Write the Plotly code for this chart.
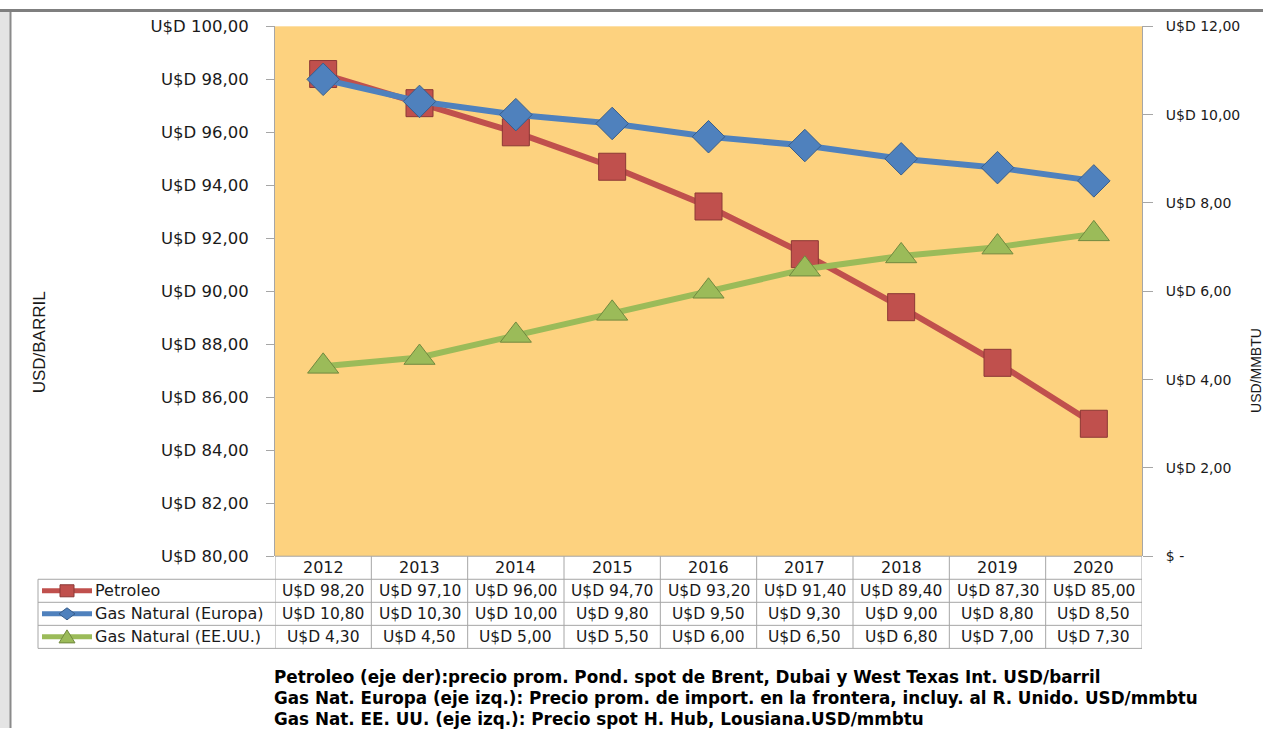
import plotly.graph_objects as go

years = ['2012', '2013', '2014', '2015', '2016', '2017', '2018', '2019', '2020']
petroleo = [98.20, 97.10, 96.00, 94.70, 93.20, 91.40, 89.40, 87.30, 85.00]
gas_europa = [10.80, 10.30, 10.00, 9.80, 9.50, 9.30, 9.00, 8.80, 8.50]
gas_eeuu = [4.30, 4.50, 5.00, 5.50, 6.00, 6.50, 6.80, 7.00, 7.30]

series_names = ['Petroleo', 'Gas Natural (Europa)', 'Gas Natural (EE.UU.)']
left_ticks = [80, 82, 84, 86, 88, 90, 92, 94, 96, 98, 100]
right_ticks = [0, 2, 4, 6, 8, 10, 12]
notes = [
    'Petroleo (eje der):precio prom. Pond. spot de Brent, Dubai y West Texas Int. USD/barril',
    'Gas Nat. Europa (eje izq.): Precio prom. de import. en la frontera, incluy. al R. Unido. USD/mmbtu',
    'Gas Nat. EE. UU. (eje izq.): Precio spot H. Hub, Lousiana.USD/mmbtu',
]

W, H = 1263, 738
RED, RED_D = '#C0504D', '#8C3836'
BLUE, BLUE_D = '#4F81BD', '#385D8A'
GREEN, GREEN_D = '#9BBB59', '#71893F'
GRID = '#A6A6A6'
FONT = 'DejaVu Sans'
TXT = '#1A1A1A'

# the page shows up slightly shifted/squeezed vertically, compensate for it
Y_OFF, Y_SC = 8.7, 0.9726


def px(x):
    return x / W


def py(y):
    return 1 - ((y - Y_OFF) / Y_SC) / H


def usd(v):
    return 'U$D ' + ('%.2f' % v).replace('.', ',')


xs = list(range(len(years)))

fig = go.Figure()

fig.add_trace(go.Scatter(x=xs, y=petroleo, name=series_names[0], mode='lines+markers',
                         line=dict(color=RED, width=6),
                         marker=dict(symbol='square', size=27, color=RED,
                                     line=dict(color=RED_D, width=1))))
fig.add_trace(go.Scatter(x=xs, y=gas_europa, name=series_names[1], mode='lines+markers', yaxis='y2',
                         line=dict(color=BLUE, width=6),
                         marker=dict(symbol='diamond', size=25, color=BLUE,
                                     line=dict(color=BLUE_D, width=1))))
fig.add_trace(go.Scatter(x=xs, y=gas_eeuu, name=series_names[2], mode='lines+markers', yaxis='y2',
                         line=dict(color=GREEN, width=6),
                         marker=dict(symbol='triangle-up', size=27, color=GREEN,
                                     line=dict(color=GREEN_D, width=1))))

# plot area in pixels
L, R, T, B = 275, 1142, 26, 555
row_h = 23

shapes = []
annotations = []

# window frame
shapes.append(dict(type='rect', xref='paper', yref='paper', x0=0, x1=px(10), y0=0, y1=1,
                   fillcolor='#E4E4E4', line=dict(width=0), layer='below'))
shapes.append(dict(type='line', xref='paper', yref='paper', x0=px(10.5), x1=px(10.5), y0=0, y1=1,
                   line=dict(color='#8A8A8A', width=2)))
shapes.append(dict(type='rect', xref='paper', yref='paper', x0=0, x1=1, y0=1 - 3 / H, y1=1,
                   fillcolor='#7F7F7F', line=dict(width=0)))

# data table grid
for i in range(len(years) + 1):
    shapes.append(dict(type='line', xref='x', yref='paper', x0=i - 0.5, x1=i - 0.5,
                       y0=py(B), y1=py(B + 4 * row_h), line=dict(color=GRID, width=1)))
shapes.append(dict(type='line', xref='paper', yref='paper', x0=px(L), x1=px(R),
                   y0=py(B), y1=py(B), line=dict(color=GRID, width=1)))
for k in range(1, 5):
    shapes.append(dict(type='line', xref='paper', yref='paper', x0=px(38), x1=px(R),
                       y0=py(B + k * row_h), y1=py(B + k * row_h), line=dict(color=GRID, width=1)))
shapes.append(dict(type='line', xref='paper', yref='paper', x0=px(38), x1=px(38),
                   y0=py(B + row_h), y1=py(B + 4 * row_h), line=dict(color=GRID, width=1)))

# header years
for i, yr in enumerate(years):
    annotations.append(dict(x=i, xref='x', y=py(B + row_h / 2), yref='paper', text=yr,
                            yanchor='middle', showarrow=False,
                            font=dict(family=FONT, size=16, color=TXT)))

# table rows
rows = [(petroleo, RED, RED_D, 'square'), (gas_europa, BLUE, BLUE_D, 'diamond'),
        (gas_eeuu, GREEN, GREEN_D, 'triangle')]
for r, (vals, col, dcol, sym) in enumerate(rows):
    cy = B + row_h * (r + 1) + row_h / 2
    for i, v in enumerate(vals):
        annotations.append(dict(x=i, xref='x', y=py(cy), yref='paper', text=usd(v),
                                yanchor='middle', showarrow=False,
                                font=dict(family=FONT, size=15.5, color=TXT)))
    annotations.append(dict(x=px(93), xref='paper', y=py(cy), yref='paper', text=series_names[r],
                            xanchor='left', yanchor='middle', showarrow=False,
                            font=dict(family=FONT, size=16, color=TXT)))
    shapes.append(dict(type='line', xref='paper', yref='paper', x0=px(42), x1=px(92),
                       y0=py(cy), y1=py(cy), line=dict(color=col, width=5)))
    mx = 67
    if sym == 'square':
        path = f'M {px(mx-7)},{py(cy-6)} L {px(mx+7)},{py(cy-6)} L {px(mx+7)},{py(cy+6)} L {px(mx-7)},{py(cy+6)} Z'
    elif sym == 'diamond':
        path = f'M {px(mx-8)},{py(cy)} L {px(mx)},{py(cy-6)} L {px(mx+8)},{py(cy)} L {px(mx)},{py(cy+6)} Z'
    else:
        path = f'M {px(mx-8)},{py(cy+6)} L {px(mx)},{py(cy-7)} L {px(mx+8)},{py(cy+6)} Z'
    shapes.append(dict(type='path', xref='paper', yref='paper', path=path,
                       fillcolor=col, line=dict(color=dcol, width=1)))

# axis titles
annotations.append(dict(x=px(28), y=py(342), xref='paper', yref='paper', text='USD/BARRIL',
                        textangle=-90, showarrow=False,
                        font=dict(family='Liberation Sans Narrow, Liberation Sans', size=17, color=TXT)))
annotations.append(dict(x=px(1266), y=py(370), xref='paper', yref='paper', text='USD/MMBTU',
                        textangle=-90, showarrow=False,
                        font=dict(family='Liberation Sans', size=14, color=TXT)))

# notes
for n, line in enumerate(notes):
    annotations.append(dict(x=px(272), y=py(676 + 20.5 * n), xref='paper', yref='paper',
                            text='<b>' + line + '</b>', xanchor='left', yanchor='middle', showarrow=False,
                            font=dict(family=FONT, size=16.8, color='#000000')))

fig.update_layout(
    width=W, height=H, autosize=False,
    margin=dict(l=0, r=0, t=0, b=0, pad=0),
    paper_bgcolor='white',
    plot_bgcolor='#FDD27F',
    showlegend=False,
    xaxis=dict(domain=[px(L), px(R)], range=[-0.5, len(years) - 0.5],
               showticklabels=False, ticks='', showgrid=False, zeroline=False, showline=False),
    yaxis=dict(domain=[py(B), py(T)], range=[80, 100], tickvals=left_ticks,
               ticktext=[usd(v) for v in left_ticks], showgrid=False, zeroline=False,
               showline=True, linecolor=GRID, linewidth=1, ticks='outside', ticklen=8,
               tickcolor=GRID, ticklabelstandoff=14,
               tickfont=dict(family=FONT, size=16.5, color=TXT)),
    yaxis2=dict(domain=[py(B), py(T)], range=[0, 12], overlaying='y', side='right',
                tickvals=right_ticks, ticktext=['$ -' if v == 0 else usd(v) for v in right_ticks],
                showgrid=False, zeroline=False, showline=True, linecolor=GRID, linewidth=1,
                ticks='outside', ticklen=10, tickcolor=GRID, ticklabelstandoff=10,
                tickfont=dict(family=FONT, size=14, color=TXT)),
    shapes=shapes,
    annotations=annotations,
)

fig.write_html("out.html", config={'displayModeBar': False},
               post_script="document.body.style.margin='0';document.body.style.overflow='hidden';"
                           "var gd=document.getElementById('{plot_id}');"
                           "gd.style.position='fixed';gd.style.top='0px';gd.style.left='0px';")
